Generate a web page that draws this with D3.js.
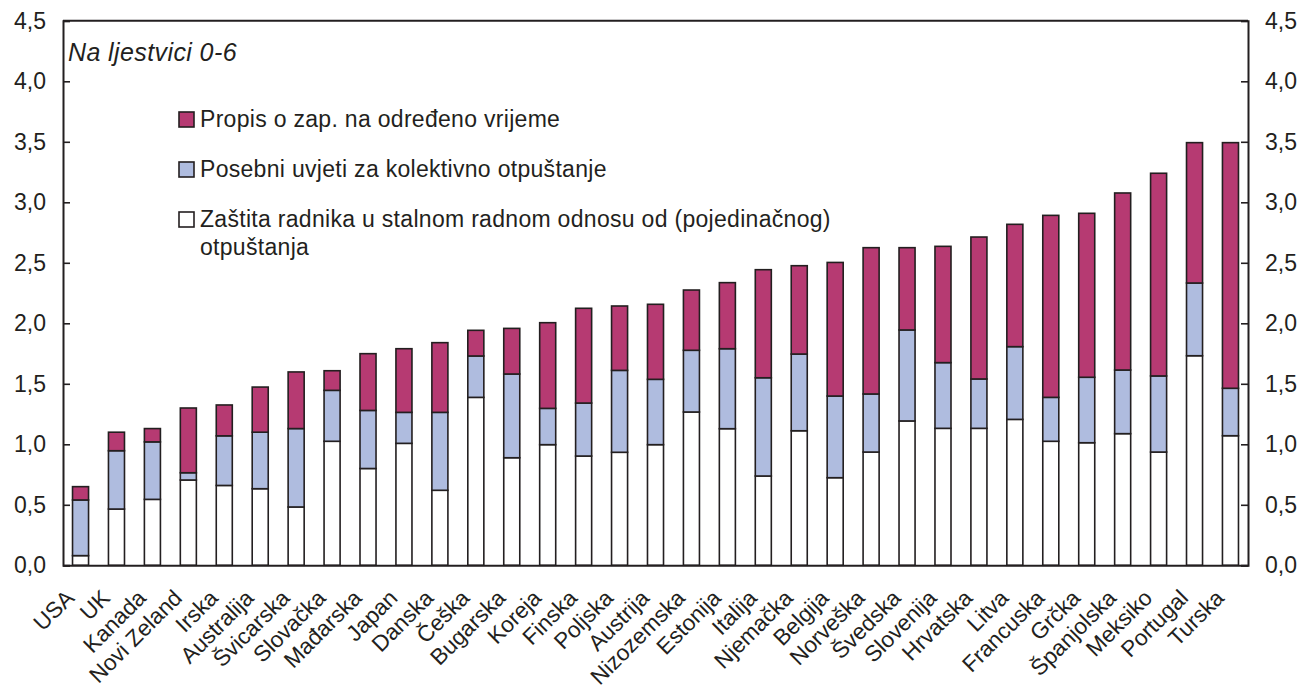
<!DOCTYPE html>
<html>
<head>
<meta charset="utf-8">
<script src="https://cdn.jsdelivr.net/npm/d3@7"></script>
<style>
  html, body { margin: 0; padding: 0; background: #ffffff; }
  svg { display: block; }
  text { font-family: "Liberation Sans", Arial, Helvetica, sans-serif; fill: #231f20; }
</style>
</head>
<body>
<svg id="chart" width="1303" height="691"></svg>
<script>
const categories = ["USA","UK","Kanada","Novi Zeland","Irska","Australija","Švicarska","Slovačka","Mađarska","Japan","Danska","Češka","Bugarska","Koreja","Finska","Poljska","Austrija","Nizozemska","Estonija","Italija","Njemačka","Belgija","Norveška","Švedska","Slovenija","Hrvatska","Litva","Francuska","Grčka","Španjolska","Meksiko","Portugal","Turska"];

// Zaštita radnika u stalnom radnom odnosu od (pojedinačnog) otpuštanja
const regularValues = [0.08,0.465,0.545,0.705,0.66,0.633,0.482,1.025,0.80,1.008,0.62,1.388,0.889,0.997,0.903,0.934,0.997,1.267,1.129,0.738,1.112,0.724,0.936,1.193,1.132,1.132,1.206,1.025,1.013,1.088,0.936,1.732,1.071];
// Posebni uvjeti za kolektivno otpuštanje
const collectiveValues = [0.46,0.482,0.475,0.06,0.41,0.467,0.648,0.421,0.48,0.256,0.644,0.342,0.692,0.30,0.438,0.677,0.54,0.51,0.661,0.812,0.634,0.675,0.48,0.752,0.543,0.408,0.601,0.363,0.541,0.526,0.629,0.601,0.392];
// Propis o zap. na određeno vrijeme
const temporaryValues = [0.11,0.153,0.11,0.535,0.255,0.373,0.468,0.162,0.469,0.526,0.576,0.212,0.377,0.708,0.783,0.532,0.62,0.498,0.546,0.893,0.73,1.104,1.209,0.68,0.961,1.173,1.011,1.504,1.355,1.463,1.675,1.16,2.03];

const seriesKeys = ["regular","collective","temporary"];
const seriesColors = ["#ffffff","#afbcdf","#b63a72"];
const legendLabels = [
  ["Propis o zap. na određeno vrijeme"],
  ["Posebni uvjeti za kolektivno otpuštanje"],
  ["Zaštita radnika u stalnom radnom odnosu od (pojedinačnog)","otpuštanja"]
];
const legendKeys = ["temporary","collective","regular"];
const yTicks = [0,0.5,1,1.5,2,2.5,3,3.5,4,4.5];
const noteText = "Na ljestvici 0-6";

const table = categories.map((c,i)=>({cat:c, regular:regularValues[i], collective:collectiveValues[i], temporary:temporaryValues[i]}));

const svg = d3.select("#chart");
const plotLeft = 63, plotRight = 1248, plotTop = 20.8, plotBottom = 565.3;
const ink = "#231f20";

const x = d3.scaleBand().domain(categories).range([plotLeft,plotRight]).paddingInner(0.554).paddingOuter(0.265);
const y = d3.scaleLinear().domain([0,4.5]).range([plotBottom,plotTop]);
const fmt = v => d3.format(".1f")(v).replace(".", ",");

const stack = d3.stack().keys(seriesKeys)(table);
const color = d3.scaleOrdinal().domain(seriesKeys).range(seriesColors);

svg.append("g").selectAll("g").data(stack).join("g")
  .attr("fill", d=>color(d.key))
  .selectAll("rect").data(d=>d).join("rect")
  .attr("x", d=>x(d.data.cat))
  .attr("width", x.bandwidth())
  .attr("y", d=>y(d[1]))
  .attr("height", d=>y(d[0])-y(d[1]))
  .attr("stroke", ink).attr("stroke-width", 1.6);

// Axes
const yl = svg.append("g").attr("transform",`translate(${plotLeft},0)`)
  .call(d3.axisLeft(y).tickValues(yTicks).tickSize(-7).tickPadding(17).tickFormat(fmt));
const yr = svg.append("g").attr("transform",`translate(${plotRight},0)`)
  .call(d3.axisRight(y).tickValues(yTicks).tickSize(-7).tickPadding(17).tickFormat(fmt));
[yl,yr].forEach(g=>{
  g.select(".domain").attr("stroke", ink).attr("stroke-width", 2);
  g.selectAll(".tick line").attr("stroke", ink).attr("stroke-width", 1.6);
  g.selectAll(".tick text").attr("font-size", 23).attr("fill", ink)
    .style("font-family", '"Liberation Sans", Arial, sans-serif');
});

const xa = svg.append("g").attr("transform",`translate(0,${plotBottom})`)
  .call(d3.axisBottom(x).tickSize(0).tickPadding(0));
xa.select(".domain").attr("stroke", ink).attr("stroke-width", 2);
xa.selectAll(".tick text")
  .attr("font-size", 22.5).attr("fill", ink)
  .style("font-family", '"Liberation Sans", Arial, sans-serif')
  .attr("text-anchor","end")
  .attr("dy", null).attr("y", null)
  .attr("transform","translate(-5,34) rotate(-45)");

// top border
svg.append("line").attr("x1",plotLeft).attr("x2",plotRight).attr("y1",y(4.5)).attr("y2",y(4.5))
  .attr("stroke", ink).attr("stroke-width", 2);

// note
svg.append("text").attr("x",68).attr("y",61).attr("font-size",25).attr("font-style","italic")
  .attr("letter-spacing",0.4).text(noteText);

// legend
const lg = svg.append("g");
const rowY = [126.5, 176.5, 226.5];
legendKeys.forEach((k,i)=>{
  lg.append("rect").attr("x",179).attr("y",rowY[i]-14.5).attr("width",15).attr("height",15)
    .attr("fill",color(k)).attr("stroke",ink).attr("stroke-width",1.6);
  const t = lg.append("text").attr("x",200).attr("y",rowY[i]).attr("font-size",23).attr("letter-spacing",0.3);
  legendLabels[i].forEach((line,j)=>{
    t.append("tspan").attr("x",200).attr("dy", j===0?0:28.5).text(line);
  });
});
</script>
</body>
</html>
